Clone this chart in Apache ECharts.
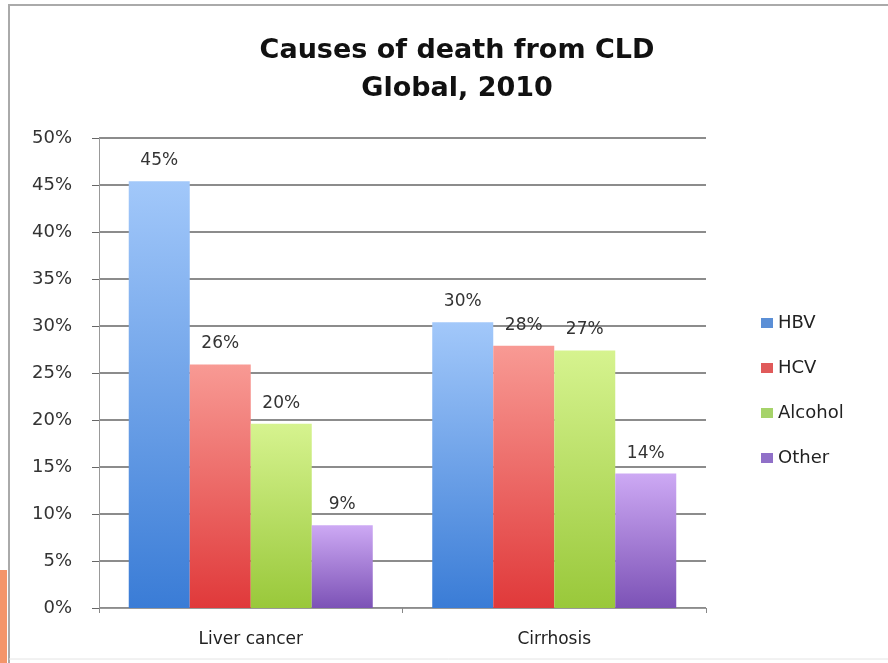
<!DOCTYPE html>
<html>
<head>
<meta charset="utf-8">
<script src="https://cdn.jsdelivr.net/npm/echarts@6/dist/echarts.min.js"></script>
<style>
	html, body { margin: 0; padding: 0; background: #fff; }
	#content-data { width: 888px; height: 663px; }
</style>
</head>
<body>
<div id="content-data"></div>
<script>
var categories = ['Liver cancer', 'Cirrhosis'];
var seriesNames = ['HBV', 'HCV', 'Alcohol', 'Other'];
var hbv = [45.4, 30.4];
var hcv = [25.9, 27.9];
var alcohol = [19.6, 27.4];
var other = [8.8, 14.3];
var yTicks = [0, 5, 10, 15, 20, 25, 30, 35, 40, 45, 50];

/*colores de cada serie: arriba claro, abajo oscuro*/
var topColors = ['#a2c8fa', '#f89a94', '#d6f38f', '#cda9f4'];
var bottomColors = ['#3a7cd6', '#e0393a', '#99c83a', '#7c52b6'];
var legendColors = ['#5b8fd6', '#e05a5a', '#a6d36a', '#9070c8'];

function graphica1(){
	var dom = document.getElementById('content-data');
	var myChart = echarts.init(dom, null, {
		renderer: 'canvas',
		useDirtyRect: false
	});

	var values = [hbv, hcv, alcohol, other];
	var series = values.map(function(data, i){
		return {
			name: seriesNames[i],
			type: 'bar',
			barGap: '0%',
			barCategoryGap: '19.6%',
			data: data,
			itemStyle: {
				color: new echarts.graphic.LinearGradient(0, 0, 0, 1, [
					{ offset: 0, color: topColors[i] },
					{ offset: 1, color: bottomColors[i] }
				])
			},
			label: {
				show: true,
				position: 'top',
				distance: 12,
				fontFamily: 'DejaVu Sans',
				fontSize: 17,
				color: '#333',
				formatter: function(p){ return Math.round(p.value) + '%'; }
			}
		};
	});

	var option = {
		animation: false,
		backgroundColor: '#fff',
		title: {
			text: 'Causes of death from CLD\nGlobal, 2010',
			left: 452,
			textAlign: 'center',
			top: 27,
			textStyle: {
				fontFamily: 'DejaVu Sans',
				fontWeight: 'bold',
				fontSize: 27,
				lineHeight: 38,
				color: '#111'
			}
		},
		legend: {
			orient: 'vertical',
			left: 756,
			top: 308,
			itemWidth: 12,
			itemHeight: 10,
			itemGap: 25,
			icon: 'rect',
			data: seriesNames.map(function(n, i){
				return { name: n, itemStyle: { color: legendColors[i] } };
			}),
			textStyle: {
				fontFamily: 'DejaVu Sans',
				fontSize: 18,
				lineHeight: 20,
				color: '#222'
			}
		},
		grid: {
			left: 99,
			right: 182,
			top: 138,
			bottom: 55
		},
		xAxis: {
			type: 'category',
			data: categories,
			axisLine: { lineStyle: { color: '#999', width: 1 } },
			axisTick: { show: true, length: 5, lineStyle: { color: '#888' } },
			axisLabel: {
				margin: 23,
				fontFamily: 'DejaVu Sans',
				fontSize: 17,
				color: '#222'
			}
		},
		yAxis: {
			type: 'value',
			min: yTicks[0],
			max: yTicks[yTicks.length - 1],
			interval: 5,
			axisLine: { show: true, lineStyle: { color: '#999' } },
			axisTick: { show: true, length: 7, lineStyle: { color: '#666' } },
			splitLine: { lineStyle: { color: '#666', width: 1.5 } },
			axisLabel: {
				margin: 27,
				fontFamily: 'DejaVu Sans',
				fontSize: 18,
				color: '#333',
				formatter: '{value}%'
			}
		},
		graphic: [
			{
				type: 'polyline',
				shape: { points: [[9, 663], [9, 5], [888, 5]] },
				style: { fill: 'none', stroke: '#aaa', lineWidth: 2 },
				z: -1
			},
			{
				type: 'line',
				shape: { x1: 9, y1: 659, x2: 888, y2: 659 },
				style: { stroke: '#e4e4e4', lineWidth: 1 },
				z: -1
			},
			{
				type: 'rect',
				left: 0, top: 570,
				shape: { width: 7, height: 93 },
				style: { fill: '#f4956a' }
			}
		],
		series: series
	};

	if (option && typeof option === 'object') {
		myChart.setOption(option);
	}

	window.addEventListener('resize', myChart.resize);
}
graphica1()
</script>
</body>
</html>
